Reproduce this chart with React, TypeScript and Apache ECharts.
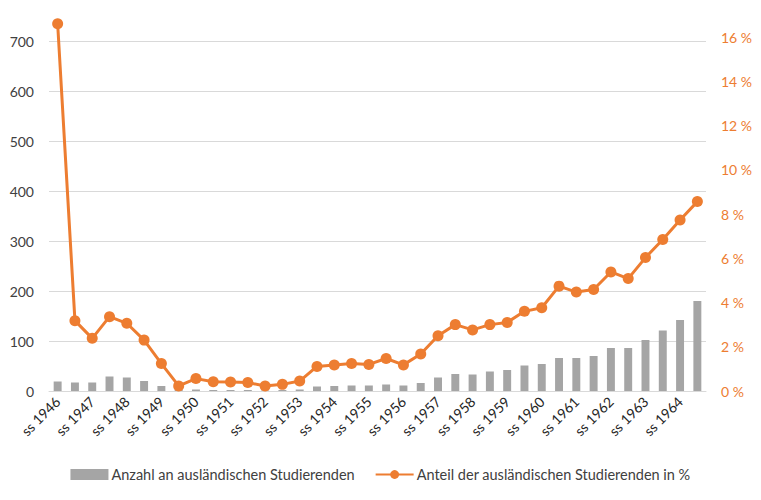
import React, { useEffect, useRef } from "react";
import * as echarts from "echarts";

const years = [1946,1947,1948,1949,1950,1951,1952,1953,1954,1955,1956,1957,1958,1959,1960,1961,1962,1963,1964];
const categories: string[] = [];
years.forEach((y) => {
  categories.push("ss " + y);
  categories.push("ws " + y + "/" + String(y + 1).slice(2));
});

const countValues = [19,17,17,29,27,20,10,2,3,2,2,2,1,2,3,9,10,11,11,13,11,16,27,34,33,39,42,51,54,66,66,70,86,86,102,121,142,180];
const shareValues = [16.6,3.18,2.38,3.36,3.06,2.3,1.24,0.23,0.56,0.42,0.41,0.38,0.23,0.3,0.45,1.11,1.18,1.24,1.2,1.47,1.18,1.67,2.5,3.0,2.76,3.0,3.1,3.6,3.76,4.74,4.47,4.59,5.38,5.08,6.03,6.85,7.73,8.56];

const barName = "Anzahl an ausländischen Studierenden";
const lineName = "Anteil der ausländischen Studierenden in %";

const FONT = "Lato, 'Noto Sans', sans-serif";

export default function App() {
  const ref = useRef<HTMLDivElement>(null);
  useEffect(() => {
    document.body.style.margin = "0";
    const chart = echarts.init(ref.current!, null, { renderer: "svg" });
    chart.setOption({
      animation: false,
      backgroundColor: "#ffffff",
      textStyle: { fontFamily: FONT },
      grid: [
        { left: 49, right: 55, top: 41, bottom: 109 },
        { left: 49, right: 55, top: 37, bottom: 109 },
      ],
      legend: {
        bottom: 13,
        left: "center",
        itemGap: 20,
        itemWidth: 38,
        itemHeight: 11,
        textStyle: { fontSize: 14.5, color: "#404040", fontFamily: FONT, padding: [0, 0, 0, -2] },
        data: [
          { name: barName, icon: "rect" },
          { name: lineName },
        ],
      },
      xAxis: [
        {
          type: "category",
          gridIndex: 0,
          data: categories,
          boundaryGap: true,
          axisTick: { show: false },
          axisLine: { lineStyle: { color: "#d9d9d9" } },
          axisLabel: {
            interval: 1,
            rotate: 45,
            fontSize: 14,
            color: "#262626",
            fontFamily: FONT,
            margin: 8,
          },
        },
        {
          type: "category",
          gridIndex: 1,
          data: categories,
          boundaryGap: true,
          show: false,
        },
      ],
      yAxis: [
        {
          type: "value",
          gridIndex: 0,
          min: 0,
          max: 700,
          interval: 100,
          axisLine: { show: false },
          axisTick: { show: false },
          splitLine: { lineStyle: { color: "#d9d9d9", width: 1 } },
          axisLabel: { fontSize: 14, color: "#404040", fontFamily: FONT, margin: 15 },
        },
        {
          type: "value",
          gridIndex: 1,
          position: "right",
          min: 0,
          max: 16,
          interval: 2,
          axisLine: { show: false },
          axisTick: { show: false },
          splitLine: { show: false },
          axisLabel: {
            fontSize: 14,
            color: "#ED7D31",
            fontFamily: FONT,
            margin: 15,
            formatter: "{value} %",
          },
        },
      ],
      series: [
        {
          name: barName,
          type: "bar",
          xAxisIndex: 0,
          yAxisIndex: 0,
          data: countValues,
          barWidth: "46%",
          itemStyle: { color: "#A5A5A5" },
        },
        {
          name: lineName,
          type: "line",
          xAxisIndex: 1,
          yAxisIndex: 1,
          data: shareValues,
          clip: false,
          symbol: "circle",
          symbolSize: 11,
          lineStyle: { color: "#ED7D31", width: 3 },
          itemStyle: { color: "#ED7D31" },
        },
      ],
    });
    return () => chart.dispose();
  }, []);
  return <div ref={ref} style={{ width: 761, height: 500 }} />;
}
